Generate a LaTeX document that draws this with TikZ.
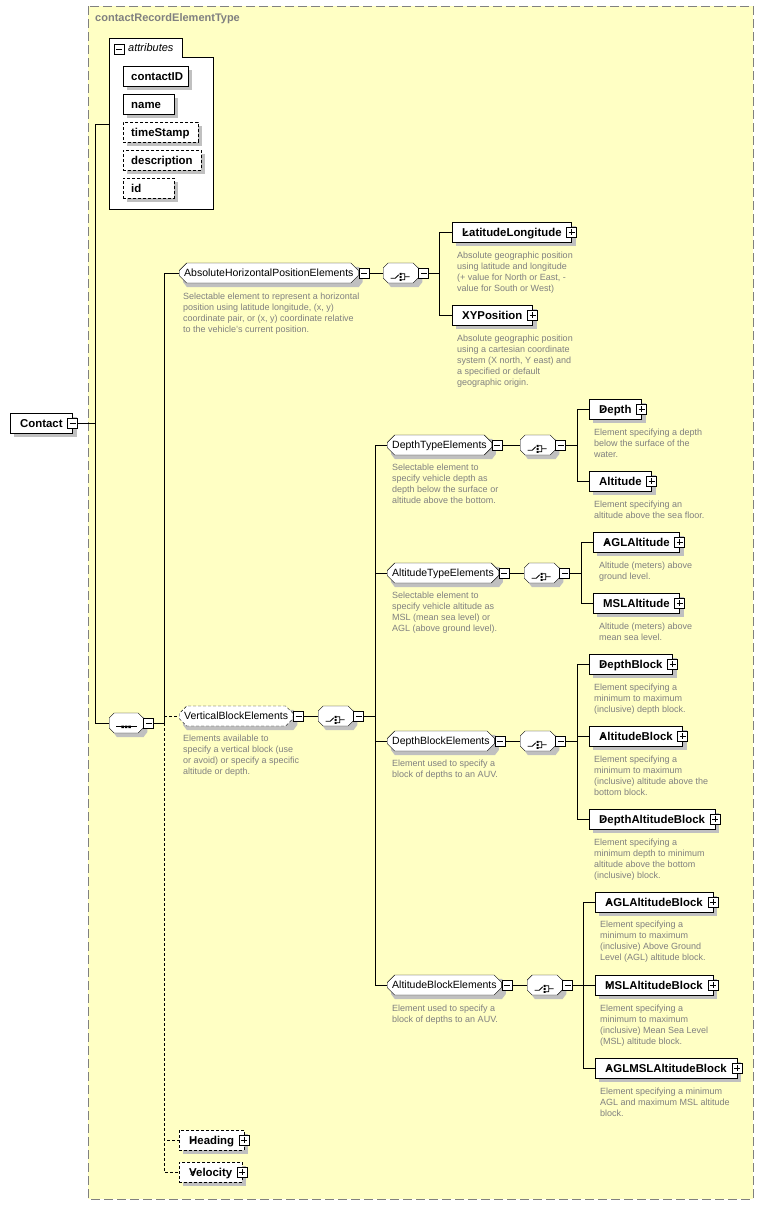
\documentclass[tikz,border=0pt]{standalone}
\usepackage{fontspec}
\setmainfont{Liberation Sans}
\usetikzlibrary{shapes.misc,arrows.meta,calc}

\definecolor{typefill}{RGB}{255,255,196}
\definecolor{typeline}{RGB}{128,128,128}
\definecolor{doctext}{RGB}{128,128,128}
\definecolor{shadowgray}{RGB}{192,192,192}

\pgfdeclarelayer{back}
\pgfdeclarelayer{shade}
\pgfsetlayers{back,shade,main}

\tikzset{
  boxshadow/.style={append after command={\pgfextra{\begin{pgfonlayer}{shade}
    \path[fill=shadowgray] ($(\tikzlastnode.south west)+(4,4)$) -- ($(\tikzlastnode.south east)+(4,4)$)
      -- ($(\tikzlastnode.north east)+(4,4)$) -- ($(\tikzlastnode.north west)+(4,4)$) -- cycle;
    \end{pgfonlayer}}}},
  grpshadow/.style={append after command={\pgfextra{\begin{pgfonlayer}{shade}
    \path[fill=shadowgray] ($(\tikzlastnode.west)+(4,-1)$) -- ($(\tikzlastnode.west |- \tikzlastnode.north)+(8,4)$)
      -- ($(\tikzlastnode.east |- \tikzlastnode.north)+(0,4)$) -- ($(\tikzlastnode.east)+(4,-1)$)
      -- ($(\tikzlastnode.east)+(4,9)$) -- ($(\tikzlastnode.east |- \tikzlastnode.south)+(0,4)$)
      -- ($(\tikzlastnode.west |- \tikzlastnode.south)+(8,4)$) -- ($(\tikzlastnode.west)+(4,9)$) -- cycle;
    \end{pgfonlayer}}}},
  elem/.style={draw,fill=white,boxshadow,anchor=west,minimum height=20pt,inner xsep=10pt,inner ysep=0pt,
    text height=9pt,text depth=0.8pt,font=\fontsize{11.4}{13}\selectfont\bfseries},
  attr/.style={elem,inner xsep=8pt,text width=#1,align=left},
  grp/.style={draw,fill=white,grpshadow,anchor=west,chamfered rectangle,chamfered rectangle xsep=4pt,
    minimum height=20pt,inner xsep=1pt,inner ysep=0pt,text height=8.5pt,text depth=1pt,
    font=\fontsize{10.5}{12}\selectfont},
  optional/.style={dash pattern=on 3pt off 2pt},
  refmark/.style={path picture={\draw[solid,black,line width=0.8pt,-{Triangle[length=2.2pt,width=2.2pt]},
    shift={(path picture bounding box.south west)}] (1.5,-1.5) -- (5.5,-5.5);}},
  mbox/.style={draw,solid,fill=white,line width=0.8pt,minimum size=10pt,inner sep=0pt,
    path picture={\draw[black,line width=0.8pt,shift={(path picture bounding box.center)}] (-3,0) -- (3,0);}},
  pbox/.style={mbox,path picture={\draw[black,line width=0.8pt,shift={(path picture bounding box.center)}]
    (-3,0) -- (3,0) (0,-3) -- (0,3);}},
  choiceicon/.style={minimum width=35pt,path picture={
    \draw[solid,black,line width=0.8pt,shift={(path picture bounding box.center)}]
      (-10,1.5) -- (-5.5,1.5) -- (-2,-2) (1,-3) -- (4,-3) -- (4,3) -- (1,3) (4,0) -- (9,0);
    \fill[black,shift={(path picture bounding box.center)}]
      (-1,-4) rectangle ++(2,2) (-1,-1) rectangle ++(2,2) (-1,2) rectangle ++(2,2);}},
  seqicon/.style={minimum width=34pt,path picture={
    \draw[black,line width=0.8pt,shift={(path picture bounding box.center)}] (-10,0) -- (11,0);
    \fill[black,shift={(path picture bounding box.center)}]
      (-4.75,-1.25) rectangle ++(2.5,2.5) (-1.25,-1.25) rectangle ++(2.5,2.5) (2.25,-1.25) rectangle ++(2.5,2.5);}},
  doc/.style={anchor=north west,inner sep=0pt,align=left,text=doctext,font=\fontsize{9}{11}\selectfont}
}

\begin{document}
\begin{tikzpicture}[x=1pt,y=-1pt,line width=1pt]
\useasboundingbox (0,0) rectangle (764,1205);
\begin{pgfonlayer}{back}
\fill[white] (0,0) rectangle (764,1205);
\draw[typeline,fill=typefill,dash pattern=on 9pt off 4pt] (88,6) rectangle (753,1199);
\draw[fill=white] (109,209) -- (109,38) -- (182,38) -- (182,57) -- (213,57) -- (213,209) -- cycle;
\end{pgfonlayer}
\node[anchor=west,inner sep=0pt,text=typeline,font=\fontsize{11}{13}\selectfont\bfseries] (title) at (95,19) {contactRecordElementType};

\node[mbox] (attrm) at (119,49) {};
\node[anchor=west,inner sep=0pt,font=\fontsize{11}{13}\selectfont\itshape] (attrlbl) at (128,48) {attributes};
\coordinate (attrin) at (109,124);
\node[attr=49pt] (cid) at (123,76) {contactID};
\node[attr=35pt] (name) at (123,104) {name};
\node[attr=59pt,optional] (ts) at (123,132) {timeStamp};
\node[attr=62pt,optional] (descr) at (123,160) {description};
\node[attr=35pt,optional] (id) at (123,188) {id};

\node[elem] (contact) at (10,423) {Contact};
\node[mbox] (contactm) at (contact.east) {};
\node[grp,seqicon] (seq) at (109,723) {};
\node[mbox,anchor=west] (seqm) at (seq.east) {};

\node[grp] (ahpe) at (179,273) {AbsoluteHorizontalPositionElements};
\node[mbox,anchor=west] (ahpem) at (ahpe.east) {};
\node[doc] (ahpedoc) at (183,293) {Selectable element to represent a horizontal\\position using latitude longitude, (x, y)\\coordinate pair, or (x, y) coordinate relative\\to the vehicle's current position.};
\node[grp,choiceicon] (ch1) at (383,273) {};
\node[mbox,anchor=west] (ch1m) at (ch1.east) {};
\node[elem,refmark] (latlon) at (452,232) {LatitudeLongitude};
\node[pbox] (latlonp) at (latlon.east) {};
\node[doc] (latlondoc) at (457,252) {Absolute geographic position\\using latitude and longitude\\(+ value for North or East, -\\value for South or West)};
\node[elem,refmark] (xypos) at (452,315) {XYPosition};
\node[pbox] (xyposp) at (xypos.east) {};
\node[doc] (xyposdoc) at (457,335) {Absolute geographic position\\using a cartesian coordinate\\system (X north, Y east) and\\a specified or default\\geographic origin.};

\node[grp,optional] (vbe) at (179,716) {VerticalBlockElements};
\node[mbox,anchor=west] (vbem) at (vbe.east) {};
\node[doc] (vbedoc) at (183,735) {Elements available to\\specify a vertical block (use\\or avoid) or specify a specific\\altitude or depth.};
\node[grp,choiceicon] (ch2) at (318,716) {};
\node[mbox,anchor=west] (ch2m) at (ch2.east) {};

\node[grp] (dte) at (387,445) {DepthTypeElements};
\node[mbox,anchor=west] (dtem) at (dte.east) {};
\node[doc] (dtedoc) at (392,464) {Selectable element to\\specify vehicle depth as\\depth below the surface or\\altitude above the bottom.};
\node[grp,choiceicon] (ch3) at (520,445) {};
\node[mbox,anchor=west] (ch3m) at (ch3.east) {};
\node[elem,refmark] (depth) at (589,409) {Depth};
\node[pbox] (depthp) at (depth.east) {};
\node[doc] (depthdoc) at (594,429) {Element specifying a depth\\below the surface of the\\water.};
\node[elem] (alt) at (589,481) {Altitude};
\node[pbox] (altp) at (alt.east) {};
\node[doc] (altdoc) at (594,501) {Element specifying an\\altitude above the sea floor.};

\node[grp] (ate) at (387,573) {AltitudeTypeElements};
\node[mbox,anchor=west] (atem) at (ate.east) {};
\node[doc] (atedoc) at (392,592) {Selectable element to\\specify vehicle altitude as\\MSL (mean sea level) or\\AGL (above ground level).};
\node[grp,choiceicon] (ch4) at (524,573) {};
\node[mbox,anchor=west] (ch4m) at (ch4.east) {};
\node[elem,refmark] (agl) at (593,542) {AGLAltitude};
\node[pbox] (aglp) at (agl.east) {};
\node[doc] (agldoc) at (599,562) {Altitude (meters) above\\ground level.};
\node[elem] (msl) at (593,603) {MSLAltitude};
\node[pbox] (mslp) at (msl.east) {};
\node[doc] (msldoc) at (599,623) {Altitude (meters) above\\mean sea level.};

\node[grp] (dbe) at (387,741) {DepthBlockElements};
\node[mbox,anchor=west] (dbem) at (dbe.east) {};
\node[doc] (dbedoc) at (392,760) {Element used to specify a\\block of depths to an AUV.};
\node[grp,choiceicon] (ch5) at (520,741) {};
\node[mbox,anchor=west] (ch5m) at (ch5.east) {};
\node[elem,refmark] (db) at (589,664) {DepthBlock};
\node[pbox] (dbp) at (db.east) {};
\node[doc] (dbdoc) at (594,684) {Element specifying a\\minimum to maximum\\(inclusive) depth block.};
\node[elem,refmark] (ab) at (589,736) {AltitudeBlock};
\node[pbox] (abp) at (ab.east) {};
\node[doc] (abdoc) at (594,756) {Element specifying a\\minimum to maximum\\(inclusive) altitude above the\\bottom block.};
\node[elem,refmark] (dab) at (589,819) {DepthAltitudeBlock};
\node[pbox] (dabp) at (dab.east) {};
\node[doc] (dabdoc) at (594,839) {Element specifying a\\minimum depth to minimum\\altitude above the bottom\\(inclusive) block.};

\node[grp] (abe) at (387,985) {AltitudeBlockElements};
\node[mbox,anchor=west] (abem) at (abe.east) {};
\node[doc] (abedoc) at (392,1005) {Element used to specify a\\block of depths to an AUV.};
\node[grp,choiceicon] (ch6) at (527,985) {};
\node[mbox,anchor=west] (ch6m) at (ch6.east) {};
\node[elem,refmark] (aglab) at (595,902) {AGLAltitudeBlock};
\node[pbox] (aglabp) at (aglab.east) {};
\node[doc] (aglabdoc) at (600,921) {Element specifying a\\minimum to maximum\\(inclusive) Above Ground\\Level (AGL) altitude block.};
\node[elem,refmark] (mslab) at (595,985) {MSLAltitudeBlock};
\node[pbox] (mslabp) at (mslab.east) {};
\node[doc] (mslabdoc) at (600,1005) {Element specifying a\\minimum to maximum\\(inclusive) Mean Sea Level\\(MSL) altitude block.};
\node[elem,refmark] (amab) at (595,1068) {AGLMSLAltitudeBlock};
\node[pbox] (amabp) at (amab.east) {};
\node[doc] (amabdoc) at (600,1088) {Element specifying a minimum\\AGL and maximum MSL altitude\\block.};

\node[elem,refmark,optional] (head) at (179,1140) {Heading};
\node[pbox] (headp) at (head.east) {};
\node[elem,refmark,optional] (velo) at (179,1172) {Velocity};
\node[pbox] (velop) at (velo.east) {};

\draw (contactm.east) -- ++(17,0) coordinate (ctrunk);
\draw (ctrunk) |- (attrin);
\draw (ctrunk) |- (seq.west);
\draw (seqm.east) -- ++(10,0) coordinate (strunk) |- (ahpe.west);
\draw[optional] (strunk |- vbe.west) -- (vbe.west);
\draw[optional] (strunk) |- (head.west);
\draw[optional] (strunk) |- (velo.west);

\draw (ahpem.east) -- (ch1.west);
\draw (ch1m.east) -- ++(10,0) coordinate (t1) |- (latlon.west);
\draw (t1) |- (xypos.west);

\draw (vbem.east) -- (ch2.west);
\draw (ch2m.east) -- ++(11,0) coordinate (t2) |- (dte.west);
\draw (t2) |- (ate.west);
\draw (t2) |- (dbe.west);
\draw (t2) |- (abe.west);

\draw (dtem.east) -- (ch3.west);
\draw (ch3m.east) -- ++(11,0) coordinate (t3) |- (depth.west);
\draw (t3) |- (alt.west);
\draw (atem.east) -- (ch4.west);
\draw (ch4m.east) -- ++(11,0) coordinate (t4) |- (agl.west);
\draw (t4) |- (msl.west);
\draw (dbem.east) -- (ch5.west);
\draw (ch5m.east) -- ++(11,0) coordinate (t5) |- (db.west);
\draw (t5) |- (ab.west);
\draw (t5) |- (dab.west);
\draw (abem.east) -- (ch6.west);
\draw (ch6m.east) -- ++(10,0) coordinate (t6) |- (aglab.west);
\draw (t6) |- (mslab.west);
\draw (t6) |- (amab.west);
\end{tikzpicture}
\end{document}
